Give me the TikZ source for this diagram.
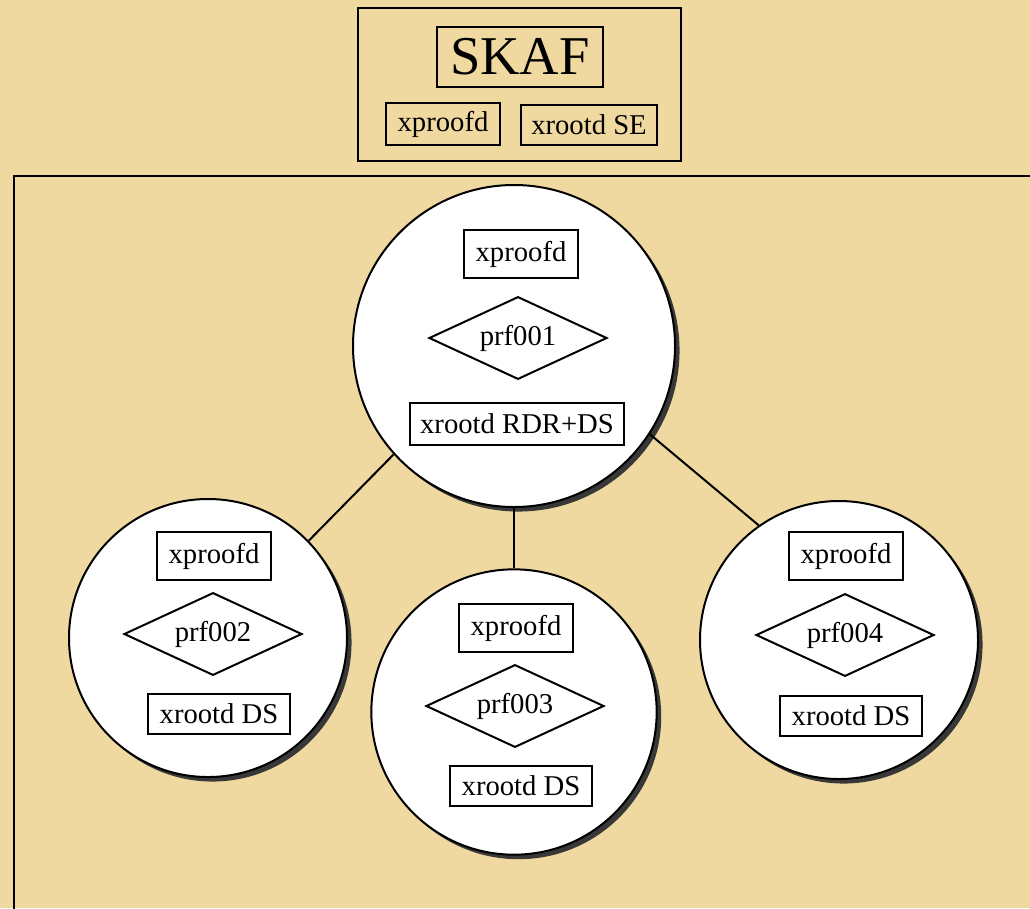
\documentclass[tikz,border=0pt]{standalone}
\usepackage{fontspec}
\setmainfont{Liberation Serif}
\usetikzlibrary{shapes.geometric,shadows}
\definecolor{parchment}{HTML}{EFD9A0}
\begin{document}
\begin{tikzpicture}[x=0.75pt,y=-0.75pt,line width=1.5pt,
  host/.style={circle, draw, fill=white, inner sep=0pt,
    drop shadow={shadow xshift=3.4pt, shadow yshift=-3.4pt, fill=black!78, opacity=1}},
  svc/.style={draw, inner sep=0pt, font=\fontsize{21.5pt}{24pt}\selectfont},
  proc/.style={svc, fill=white, minimum width=86pt, minimum height=36pt},
  store/.style={svc, fill=white, minimum width=106pt, minimum height=30pt},
  srv/.style={diamond, draw, fill=white, inner sep=0pt, aspect=2.15,
    minimum width=133.5pt, minimum height=62pt, font=\fontsize{21.5pt}{24pt}\selectfont}]
  % paper background and page frame
  \fill[parchment] (0,0) rectangle (1030,908);
  \useasboundingbox (0,0) rectangle (1030,908);
  \clip (0,0) rectangle (1030,908);
  \draw (14,920) -- (14,176) -- (1045,176);

  % central facility block
  \draw (358,8) rectangle (681,161);
  \node[draw, inner sep=0pt, minimum width=124pt, minimum height=45pt,
        font=\fontsize{41pt}{44pt}\selectfont] (skaf) at (520,57) {SKAF};
  \node[svc, minimum width=85.5pt, minimum height=32pt] (skproof) at (443,124) {xproofd};
  \node[svc, minimum width=102pt, minimum height=30pt] (skse) at (589,125) {xrootd SE};

  % cluster hosts
  \node[host, minimum size=241.5pt] (c1) at (514,346) {};
  \node[host, minimum size=208.5pt] (c2) at (208,638) {};
  \node[host, minimum size=214pt]   (c3) at (514,712) {};
  \node[host, minimum size=208.5pt] (c4) at (839,640) {};

  % links from the master host to the workers
  \draw (c1.222) -- (c2.44.7);
  \draw (c1.-90) -- (c3.90.8);
  \draw (c1.-33) -- (c4.125);

  % master host services
  \node[proc] (p1) at (521,254) {xproofd};
  \node[srv]  (s1) at (518,338) {prf001};
  \node[svc, fill=white, minimum width=161pt, minimum height=31.5pt] (r1) at (517,424) {xrootd RDR+DS};

  % worker host services
  \node[proc]  (p2) at (214,556) {xproofd};
  \node[srv]   (s2) at (213,634) {prf002};
  \node[store] (r2) at (219,714) {xrootd DS};

  \node[proc]  (p3) at (516,628) {xproofd};
  \node[srv]   (s3) at (515,706) {prf003};
  \node[store] (r3) at (521,786) {xrootd DS};

  \node[proc]  (p4) at (846,556) {xproofd};
  \node[srv]   (s4) at (845,635) {prf004};
  \node[store] (r4) at (851,716) {xrootd DS};
\end{tikzpicture}
\end{document}
